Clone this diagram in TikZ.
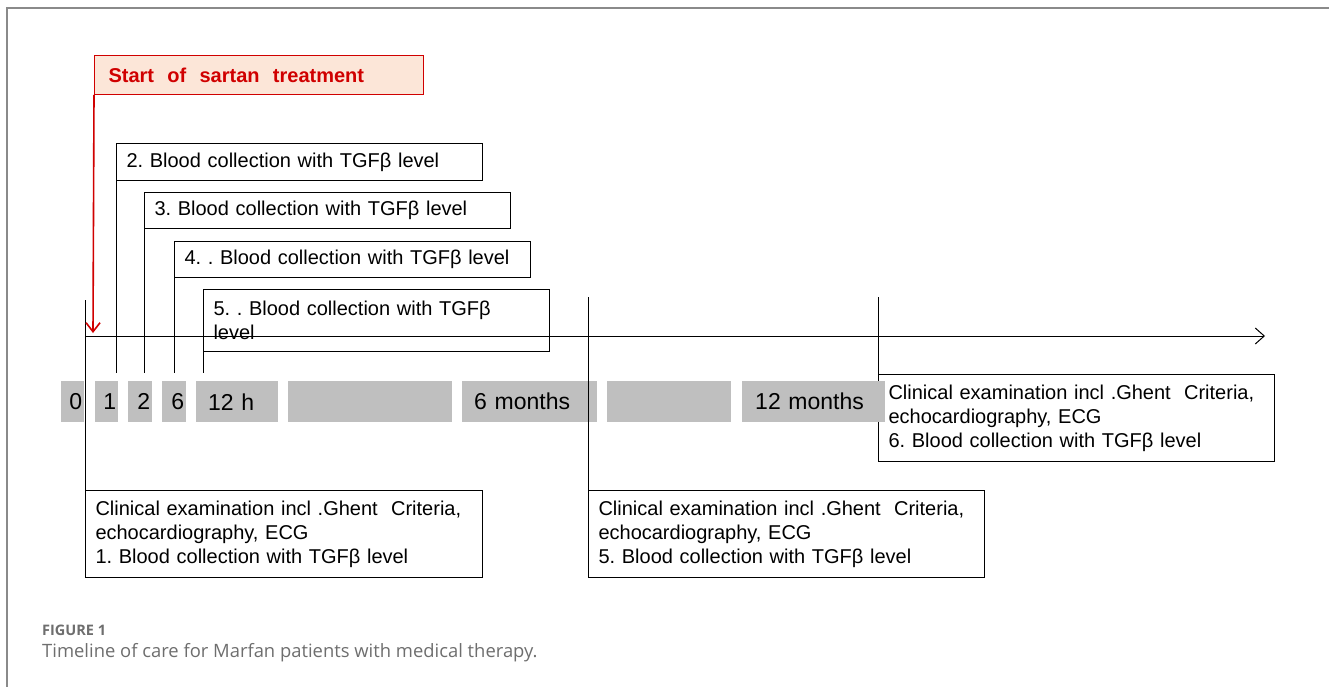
\documentclass[tikz,border=0pt]{standalone}
\usepackage{fontspec}
\setmainfont{Liberation Sans}
\newfontfamily\capfont{Open Sans}
\usetikzlibrary{arrows.meta}
\definecolor{redline}{HTML}{D00000}
\definecolor{peach}{HTML}{FCE6D8}
\definecolor{graybox}{HTML}{BFBFBF}
\definecolor{capgray}{HTML}{6E6E6E}
\definecolor{framegray}{HTML}{8A8A8A}
\frenchspacing
\begin{document}
\frenchspacing
\begin{tikzpicture}[x=1pt,y=-1pt,
  tbox/.style={draw=black, line width=1pt, fill=white, anchor=north west,
    font=\fontsize{20}{24}\selectfont, align=left, inner xsep=10pt, inner ysep=0pt},
  gbox/.style={fill=graybox, anchor=north west, minimum height=41pt, inner ysep=0pt,
    font=\fontsize{23}{26}\selectfont},
  conn/.style={draw=black, line width=1pt},
  redbox/.style={draw=redline, line width=1pt, fill=peach, anchor=north west,
    text=redline, font=\fontsize{20}{24}\selectfont\bfseries, align=left,
    inner xsep=14pt, inner ysep=0pt, minimum height=39pt, text width=301pt},
  caphead/.style={anchor=base west, inner sep=0pt, text=capgray,
    font=\capfont\fontsize{14.5}{17}\selectfont\bfseries},
  captext/.style={anchor=base west, inner sep=0pt, text=capgray,
    font=\capfont\fontsize{18.4}{22}\selectfont}
]
\useasboundingbox (0,0) rectangle (1329,687);
% frame
\draw[framegray, line width=1.5pt] (7,687) -- (7,8) -- (1329,8);

% start of treatment
\node[redbox] (start) at (94,55) {Start~ of~ sartan~ treatment};

% blood collection boxes
\node[tbox, text width=346pt, minimum height=37pt] (b2) at (116,143) {2. Blood collection with TGFβ level};
\node[tbox, text width=346pt, minimum height=36pt] (b3) at (144,192) {3. Blood collection with TGFβ level};
\node[tbox, text width=336pt, minimum height=36pt] (b4) at (174,241) {4. . Blood collection with TGFβ level};
\node[tbox, text width=326pt, minimum height=62pt] (b5) at (203,289) {5. . Blood collection with TGFβ\\level};

% clinical boxes
\node[tbox, text width=376pt, minimum height=87pt] (c3) at (878,374) {Clinical examination incl .Ghent~ Criteria,\\echocardiography, ECG\\6. Blood collection with TGFβ level};
\node[tbox, text width=377pt, minimum height=87pt] (c1) at (85,490) {Clinical examination incl .Ghent~ Criteria,\\echocardiography, ECG\\1. Blood collection with TGFβ level};
\node[tbox, text width=376pt, minimum height=87pt] (c2) at (588,490) {Clinical examination incl .Ghent~ Criteria,\\echocardiography, ECG\\5. Blood collection with TGFβ level};

% gray time boxes
\node[gbox, minimum width=23pt, text width=19pt, inner xsep=2pt, align=right] (g0) at (61,381) {0};
\node[gbox, minimum width=23pt, text width=19pt, inner xsep=2pt, align=right] (g1) at (95,381) {1};
\node[gbox, minimum width=24pt, text width=20pt, inner xsep=2pt, align=right] (g2) at (128,381) {2};
\node[gbox, minimum width=24pt, text width=20pt, inner xsep=2pt, align=right] (g6) at (162,381) {6};
\node[gbox, minimum width=82pt, text width=58pt, inner xsep=12pt, align=left] (g12h) at (196,381) {12 h};
\node[gbox, minimum width=164pt] (gblank1) at (288,381) {};
\node[gbox, minimum width=135pt, text width=111pt, inner xsep=12pt, align=left] (g6m) at (462,381) {6 months};
\node[gbox, minimum width=124pt] (gblank2) at (607,381) {};
\node[gbox, minimum width=143pt, text width=117pt, inner xsep=13pt, align=left] (g12m) at (742,381) {12 months};

% coordinates
\coordinate (t1) at (116,373);
\coordinate (t2) at (144,373);
\coordinate (t6) at (174,373);
\coordinate (t12) at (203,373);
\coordinate (v0) at (85,300);
\coordinate (v6m) at (588,297);
\coordinate (v12m) at (878,297);
\coordinate (ax0) at (85,336);
\coordinate (ax1) at (1265,336);
\coordinate (redtip) at (93,333);

% connectors
\draw[conn] (b2.south west) -- (t1);
\draw[conn] (b3.south west) -- (t2);
\draw[conn] (b4.south west) -- (t6);
\draw[conn] (b5.south west) -- (t12);
\draw[conn] (v0) -- (c1.north west);
\draw[conn] (v6m) -- (c2.north west);
\draw[conn] (v12m) -- (c3.north west);
\draw[conn, -{Straight Barb[length=9pt,width=16pt]}] (ax0) -- (ax1);
\draw[redline, line width=1.6pt, -{Straight Barb[length=9pt,width=14pt]}] (start.south west) -- (redtip);

% caption
\node[caphead] (fig) at (42,635) {FIGURE 1};
\node[captext] (cap) at (42,657) {Timeline of care for Marfan patients with medical therapy.};
\end{tikzpicture}
\end{document}
